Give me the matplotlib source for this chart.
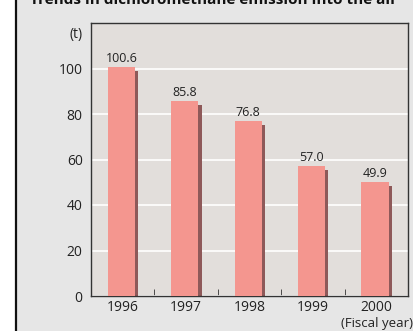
import matplotlib
matplotlib.use("Agg")
import matplotlib.pyplot as plt
from matplotlib.patches import Rectangle
import numpy as np

years = ["1996", "1997", "1998", "1999", "2000"]
emissions = [100.6, 85.8, 76.8, 57.0, 49.9]
value_labels = ["100.6", "85.8", "76.8", "57.0", "49.9"]
yticks = [0, 20, 40, 60, 80, 100]

plt.rcParams["font.family"] = ["Open Sans", "DejaVu Sans"]

W, H = 413, 331
fig = plt.figure(figsize=(W / 100, H / 100), dpi=100)
fig.patch.set_facecolor("#e6e6e6")

# white margin and black rule on the left side of the panel
fig.patches.append(Rectangle((0, 0), 15 / W, 1, transform=fig.transFigure,
                             facecolor="white", edgecolor="none", zorder=0))
fig.lines.append(plt.Line2D([15.5 / W, 15.5 / W], [0, 1], transform=fig.transFigure,
                            color="#111111", lw=1.6))

ax = fig.add_axes([91 / W, 1 - 296 / H, (408 - 91) / W, (296 - 23) / H])
ax.set_facecolor("#e2dedb")
for s in ax.spines.values():
    s.set_color("#333333")
    s.set_linewidth(1.0)

x = np.arange(len(years))
bw = 0.43
xc = x - 0.02
# drop shadow behind each bar
ax.bar(xc + 0.05, np.array(emissions) - 1.7, width=bw, color="#8e5959", zorder=2)
ax.bar(xc, emissions, width=bw, color="#f4968f", zorder=3)

for xi, v, lab in zip(xc, emissions, value_labels):
    ax.text(xi, v + 0.9, lab, ha="center", va="bottom", fontsize=9, color="#222222")

ax.set_ylim(0, 120)
ax.set_xlim(-0.5, 4.5)
ax.set_yticks(yticks)
ax.yaxis.grid(True, color="white", lw=1.2, zorder=1)
ax.set_axisbelow(True)
ax.tick_params(axis="y", length=0, labelsize=10, pad=6, colors="#222222")
ax.set_xticks(x)
ax.set_xticklabels(years)
ax.tick_params(axis="x", which="major", length=0, labelsize=10, pad=3, colors="#222222")
ax.set_xticks(x[:-1] + 0.5, minor=True)
ax.tick_params(axis="x", which="minor", direction="in", length=5, color="#333333")

ax.text(-0.025, 115, "(t)", transform=ax.get_yaxis_transform(), ha="right",
        va="center", fontsize=10, color="#222222")
fig.text(377 / W, 1 - 323 / H, "(Fiscal year)", ha="center", va="center",
         fontsize=9.5, color="#222222")
fig.text(214 / W, 1 - 0 / H, "Trends in dichloromethane emission into the air",
         ha="center", va="center", fontsize=11, fontweight="bold", color="#111111")

fig.savefig("out.png", dpi=100, facecolor=fig.get_facecolor())
